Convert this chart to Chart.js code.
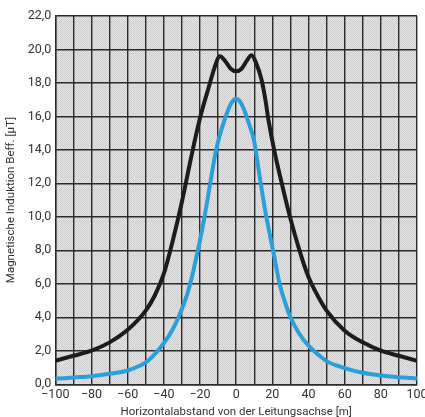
<!DOCTYPE html>
<html>
<head>
<meta charset="utf-8">
<script src="https://cdn.jsdelivr.net/npm/chart.js@4.4.1/dist/chart.umd.min.js"></script>
<style>
  html, body { margin: 0; padding: 0; background: #ffffff; }
  #wrap { width: 425px; height: 417px; }
</style>
</head>
<body>
<div id="wrap"><canvas id="feldChart" width="425" height="417"></canvas></div>
<script>
// Werte
var schwarzX = [-100, -90, -80, -70, -60, -50, -45, -40, -35, -30, -25, -20, -15, -12, -9, -6, -3, 0, 3, 6, 8.5, 11, 14, 16, 18, 21, 25, 30, 35, 40, 45, 50, 60, 70, 80, 90, 100];
var schwarzY = [1.4, 1.7, 2.0, 2.5, 3.25, 4.4, 5.3, 6.6, 8.6, 10.9, 13.5, 15.9, 17.8, 18.9, 19.6, 19.3, 18.85, 18.7, 18.85, 19.35, 19.65, 19.2, 18.2, 17.1, 15.7, 14.0, 12.1, 9.9, 8.0, 6.4, 5.3, 4.4, 3.2, 2.5, 2.0, 1.7, 1.4];

var blauX = [-100, -90, -80, -70, -60, -50, -45, -40, -35, -30, -27, -24.5, -22, -20, -17.5, -14.5, -12, -10, -7, -4, -2, 0, 2, 4, 7, 10, 13, 16, 18.5, 21.3, 24, 27, 30, 35, 40, 45, 50, 60, 70, 80, 90, 100];
var blauY = [0.32, 0.4, 0.48, 0.62, 0.82, 1.3, 1.8, 2.45, 3.3, 4.5, 5.4, 6.4, 7.6, 8.6, 10.0, 11.9, 13.5, 14.5, 15.6, 16.5, 16.9, 17.05, 16.9, 16.5, 15.6, 14.5, 12.4, 10.4, 9.0, 7.5, 6.0, 4.9, 4.0, 3.0, 2.3, 1.8, 1.38, 0.96, 0.68, 0.52, 0.42, 0.34];

var yTicks = [0, 2, 4, 6, 8, 10, 12, 14, 16, 18, 20, 22];
var xLabelSchritt = 20;

function punkte(xs, ys) {
    var arr = [];
    for (var i = 0; i < xs.length; i++) {
        arr.push({ x: xs[i], y: ys[i] });
    }
    return arr;
}

// feines graues Punktraster als Hintergrund
var muster = document.createElement('canvas');
muster.width = 2;
muster.height = 2;
var mctx = muster.getContext('2d');
mctx.fillStyle = '#e2e2e2';
mctx.fillRect(0, 0, 2, 2);
mctx.fillStyle = '#d0d0d0';
mctx.fillRect(0, 0, 1, 1);
mctx.fillRect(1, 1, 1, 1);

var hintergrund = {
    id: 'hintergrund',
    beforeDraw: function (chart) {
        var a = chart.chartArea;
        var c = chart.ctx;
        c.save();
        c.fillStyle = c.createPattern(muster, 'repeat');
        c.fillRect(a.left, a.top, a.right - a.left, a.bottom - a.top);
        c.restore();
    }
};

var schrift = "'Roboto', 'Liberation Sans', sans-serif";

var ctx = document.getElementById('feldChart').getContext('2d');
var chart = new Chart(ctx, {
    type: 'line',
    data: {
        datasets: [
            {
                label: 'schwarz',
                data: punkte(schwarzX, schwarzY),
                borderColor: '#1c1c1c',
                borderWidth: 4,
                pointRadius: 0,
                cubicInterpolationMode: 'monotone',
                fill: false
            },
            {
                label: 'blau',
                data: punkte(blauX, blauY),
                borderColor: '#2a9fda',
                borderWidth: 4,
                pointRadius: 0,
                cubicInterpolationMode: 'monotone',
                fill: false
            }
        ]
    },
    plugins: [hintergrund],
    options: {
        responsive: false,
        animation: false,
        layout: { padding: { left: 4, right: 0, top: 16, bottom: -2 } },
        plugins: {
            legend: { display: false },
            tooltip: { enabled: false }
        },
        scales: {
            x: {
                type: 'linear',
                min: -100,
                max: 100,
                grid: { color: '#2a2a2a', lineWidth: 1.4, drawTicks: false },
                border: { color: '#2a2a2a', width: 1.4 },
                ticks: {
                    stepSize: 10,
                    padding: 3,
                    maxRotation: 0,
                    autoSkip: false,
                    color: '#333',
                    font: { family: schrift, size: 12.5 },
                    callback: function (v) {
                        if (v % xLabelSchritt !== 0) return '';
                        return v < 0 ? '\u2212' + Math.abs(v) : String(v);
                    }
                },
                title: {
                    display: true,
                    text: 'Horizontalabstand von der Leitungsachse [m]',
                    color: '#333',
                    font: { family: schrift, size: 11.5 },
                    padding: { top: 0, bottom: 0 }
                },
                afterFit: function (scale) {
                    scale.paddingRight = 8;
                }
            },
            y: {
                min: 0,
                max: 22,
                afterBuildTicks: function (scale) {
                    scale.ticks = yTicks.map(function (v) { return { value: v }; });
                },
                grid: { color: '#2a2a2a', lineWidth: 1.4, drawTicks: false },
                border: { color: '#2a2a2a', width: 1.4 },
                ticks: {
                    padding: 4,
                    color: '#333',
                    font: { family: schrift, size: 12.5 },
                    callback: function (v) {
                        return v.toFixed(1).replace('.', ',');
                    }
                },
                title: {
                    display: true,
                    text: 'Magnetische Induktion Beff. [\u00b5T]',
                    color: '#333',
                    font: { family: schrift, size: 11.5 },
                    padding: { top: 0, bottom: 6 }
                }
            }
        }
    }
});
</script>
</body>
</html>
